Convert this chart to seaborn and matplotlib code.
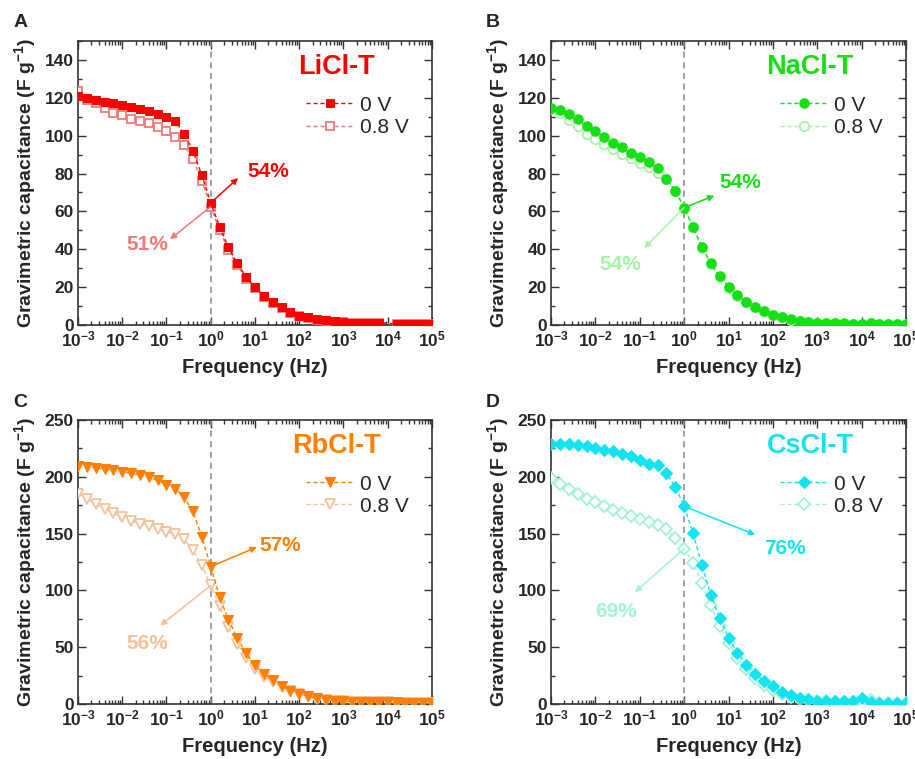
import numpy as np
import seaborn as sns
import matplotlib.pyplot as plt
import matplotlib.ticker as ticker

sns.set_style("ticks")
plt.rcParams["font.family"] = ["Liberation Sans", "DejaVu Sans"]
plt.rcParams["mathtext.fontset"] = "custom"
plt.rcParams["mathtext.bf"] = "Liberation Sans:bold"
plt.rcParams["mathtext.rm"] = "Liberation Sans"
plt.rcParams["mathtext.default"] = "bf"

# 5 points per decade, 1 mHz .. 100 kHz
FREQ = np.logspace(-3, 5, 41)
nan = np.nan

LICL_0V = [121, 120, 119, 118, 117, 116, 115, 114, 113, 111.5, 110, 107.5, 101, 92, 79,
           64.5, 52, 41, 32.5, 25.5, 20, 15.5, 12, 9.5, 7, 5, 4, 3, 2.5, 2, 1.5, 1.2, 1, 1,
           1.2, nan, 0.5, 0.5, 0.5, 0.5, 0.5]
LICL_08V = [123.5, 119, 117, 114.5, 112, 111, 109, 108, 106.5, 104.5, 102.5, 99.5, 95, 87.5, 76,
            62.5, 50, 39.5, 31.5, 24.5, 19.5, 15, 11.5, 9, 6.5, 4.8, 3.7, 2.8, 2.2, 1.8, 1.4, 1.1,
            1, 0.9, 1, nan, 0.5, 0.5, 0.5, 0.5, 0.5]
NACL_0V = [114.6, 113.6, 111.6, 109, 105.3, 102.3, 99.3, 96.1, 94, 90.7, 88.7, 85.9, 82.7, 77.2, 71,
           62, 51.7, 41.4, 32.6, 25.7, 20.3, 15.9, 12.3, 9.7, 7.4, 5.5, 4.1, 3, 2.1, 1.6, 1.2, 1,
           0.9, 0.8, 0.7, 0.6, 1.3, 0.5, 0.5, 0.5, 0.5]
NACL_08V = [114, 112, 108.5, 105, 101, 98, 95.5, 93, 90.5, 88, 85.5, 83.5, 80.5, 77, 71,
            62, 51.5, 40.5, 32, 25.2, 19.8, 15.5, 12, 9.4, 7.2, 5.3, 4, 2.9, 2, 1.5, 1.1, 0.9,
            0.8, 0.7, 0.6, 0.5, 0.9, 0.4, 0.4, 0.4, 0.4]
RBCL_0V = [209.5, 209, 208, 207, 205.6, 204.5, 203, 201.5, 199.5, 197, 193, 189.5, 182, 169.5, 147,
           121, 94, 74.3, 58, 44.7, 34.4, 26.7, 21.2, 16, 11.8, 9.1, 6.8, 5, 3.8, 2.9, 2.3, 2,
           1.8, 1.6, 1.5, 1.4, 1.3, 1.2, 1.1, 1, 1]
RBCL_08V = [185, 180.7, 175.7, 171.3, 168, 164.2, 161.3, 158.6, 156.3, 153.6, 151.3, 149.2, 144.8,
            135.7, 122, 104.3, 85.8, 67.6, 52.9, 40.2, 30.8, 24, 19, 15, 11.5, 8.8, 6.5, 4.8, 3.6,
            2.8, 2.2, 1.9, 1.7, 1.5, 1.4, 1.3, 1.2, 1.1, 1, 1, 1]
CSCL_0V = [228.5, 229, 228.5, 227.7, 226.8, 225.3, 223.9, 222.4, 220.3, 218, 215, 211, 210.6, 203,
           191, 174, 150.4, 122.2, 96, 75.5, 58.5, 45, 34.7, 26.4, 20.3, 15.6, 10.9, 7.9, 5.6, 4.1,
           3, 2.6, 2.4, 2.3, 2.2, 5, 1.5, 1.2, 1, 1, 1]
CSCL_08V = [199, 193.6, 189, 184.5, 180.4, 177.4, 174, 171, 168, 165.4, 162.7, 160, 157.8, 153.6,
            146, 136.6, 124.3, 106.3, 86.7, 68.5, 53.5, 40.8, 30.8, 23, 17, 12.6, 8.8, 6.5, 4.4,
            3.3, 2.6, 2.2, 2, 1.8, 1.7, 1.6, 3.3, 1.2, 1, 1, 1]

PANELS = ["A", "B", "C", "D"]
NAMES = ["LiCl-T", "NaCl-T", "RbCl-T", "CsCl-T"]
SERIES_0V = [LICL_0V, NACL_0V, RBCL_0V, CSCL_0V]
SERIES_08V = [LICL_08V, NACL_08V, RBCL_08V, CSCL_08V]
MARKERS = ["s", "o", "v", "D"]
MSIZES = [5.8, 6.8, 7.5, 5.8]
DARK = ["#FF0000", "#14E014", "#FF7F00", "#10E4F0"]
LIGHT = ["#F47878", "#A6F4A6", "#F6C199", "#A2F2DA"]
PCT_0V = ["54%", "54%", "57%", "76%"]
PCT_08V = ["51%", "54%", "56%", "69%"]
YMAX = [150, 150, 250, 250]

# arrow tips and label centres (data coords)
TIP_0V = [(10**0.62, 77.6), (10**0.68, 68.3), (10**1.04, 138), (10**1.6, 149)]
TXT_0V = [(10**1.29, 81), (10**1.26, 75.3), (10**1.58, 139.5), (10**2.27, 137)]
TIP_08V = [(10**-0.92, 45.3), (10**-0.9, 40.6), (10**-1.14, 69), (10**-1.11, 98.4)]
TXT_08V = [(10**-1.44, 42.3), (10**-1.45, 31.7), (10**-1.44, 53), (10**-1.53, 81.7)]

POS = [
    [0.0852, 0.5718, 0.3869, 0.3742],
    [0.6022, 0.5718, 0.3880, 0.3742],
    [0.0852, 0.0725, 0.3869, 0.3742],
    [0.6022, 0.0725, 0.3880, 0.3742],
]
LETTER_XY = [(0.022, 0.970), (0.539, 0.970), (0.022, 0.470), (0.539, 0.470)]

fig = plt.figure(figsize=(9.15, 7.59), dpi=100)


def log_fmt(v, pos):
    return r"$\mathbf{10^{%d}}$" % int(round(np.log10(v)))


for i in range(4):
    ax = fig.add_axes(POS[i])
    ax.axvline(1, color="#888888", ls=(0, (4, 3)), lw=1.1, zorder=1)

    sns.lineplot(x=FREQ, y=SERIES_08V[i], ax=ax, color=LIGHT[i], ls=(0, (3, 2)), lw=1,
                 marker=MARKERS[i], markersize=MSIZES[i], markerfacecolor="white",
                 markeredgecolor=LIGHT[i], markeredgewidth=1.3, label="0.8 V", zorder=3)
    sns.lineplot(x=FREQ, y=SERIES_0V[i], ax=ax, color=DARK[i], ls=(0, (3, 2)), lw=1,
                 marker=MARKERS[i], markersize=MSIZES[i], markerfacecolor=DARK[i],
                 markeredgecolor=DARK[i], label="0 V", zorder=4)

    ax.set_xscale("log")
    ax.set_xlim(1e-3, 1e5)
    ax.set_ylim(0, YMAX[i])
    ax.xaxis.set_major_locator(ticker.LogLocator(base=10, numticks=20))
    ax.xaxis.set_minor_locator(ticker.LogLocator(base=10, subs=np.arange(2, 10), numticks=20))
    ax.xaxis.set_minor_formatter(ticker.NullFormatter())
    ax.xaxis.set_major_formatter(ticker.FuncFormatter(log_fmt))
    if YMAX[i] == 150:
        ax.yaxis.set_major_locator(ticker.MultipleLocator(20))
        ax.yaxis.set_minor_locator(ticker.MultipleLocator(10))
    else:
        ax.yaxis.set_major_locator(ticker.MultipleLocator(50))
        ax.yaxis.set_minor_locator(ticker.MultipleLocator(25))

    ax.tick_params(which="both", direction="in", top=True, right=True, color="#333333",
                   labelsize=12.5, width=1)
    ax.tick_params(which="major", length=5.5, pad=3)
    ax.tick_params(which="minor", length=3)
    for lab in ax.get_yticklabels():
        lab.set_fontweight("bold")
    for s in ax.spines.values():
        s.set_color("#333333")
        s.set_linewidth(1.2)

    ax.set_xlabel("Frequency (Hz)", fontsize=14.5, fontweight="bold")
    ax.set_ylabel(r"Gravimetric capacitance (F g$^{\mathbf{-1}}$)", fontsize=14,
                  fontweight="bold")
    ax.xaxis.set_label_coords(0.5, -0.115)
    ax.yaxis.set_label_coords(-0.113, 0.5)

    ax.text(0.73, 0.91, NAMES[i], transform=ax.transAxes, ha="center", va="center",
            fontsize=19.5, fontweight="bold", color=DARK[i])

    # arrows from the 1 Hz point
    ax.annotate("", xy=TIP_0V[i], xytext=(FREQ[15], SERIES_0V[i][15]),
                arrowprops=dict(arrowstyle="-|>", color=DARK[i], lw=1.1, mutation_scale=9,
                                shrinkA=0, shrinkB=0), zorder=5)
    ax.annotate("", xy=TIP_08V[i], xytext=(FREQ[15], SERIES_08V[i][15]),
                arrowprops=dict(arrowstyle="-|>", color=LIGHT[i], lw=1.1, mutation_scale=9,
                                shrinkA=0, shrinkB=0), zorder=5)
    ax.text(*TXT_0V[i], PCT_0V[i], ha="center", va="center", fontsize=15,
            fontweight="bold", color=DARK[i])
    ax.text(*TXT_08V[i], PCT_08V[i], ha="center", va="center", fontsize=15,
            fontweight="bold", color=LIGHT[i])

    handles, labels = ax.get_legend_handles_labels()
    order = [labels.index("0 V"), labels.index("0.8 V")]
    ax.legend([handles[k] for k in order], [labels[k] for k in order],
              loc="center left", bbox_to_anchor=(0.645, 0.735), frameon=False,
              fontsize=15, handlelength=2.3, handletextpad=0.3, labelspacing=0.15,
              borderpad=0, borderaxespad=0)

    fig.text(*LETTER_XY[i], PANELS[i], fontsize=14, fontweight="bold", ha="center", va="center")

fig.savefig("out.png", dpi=100)
